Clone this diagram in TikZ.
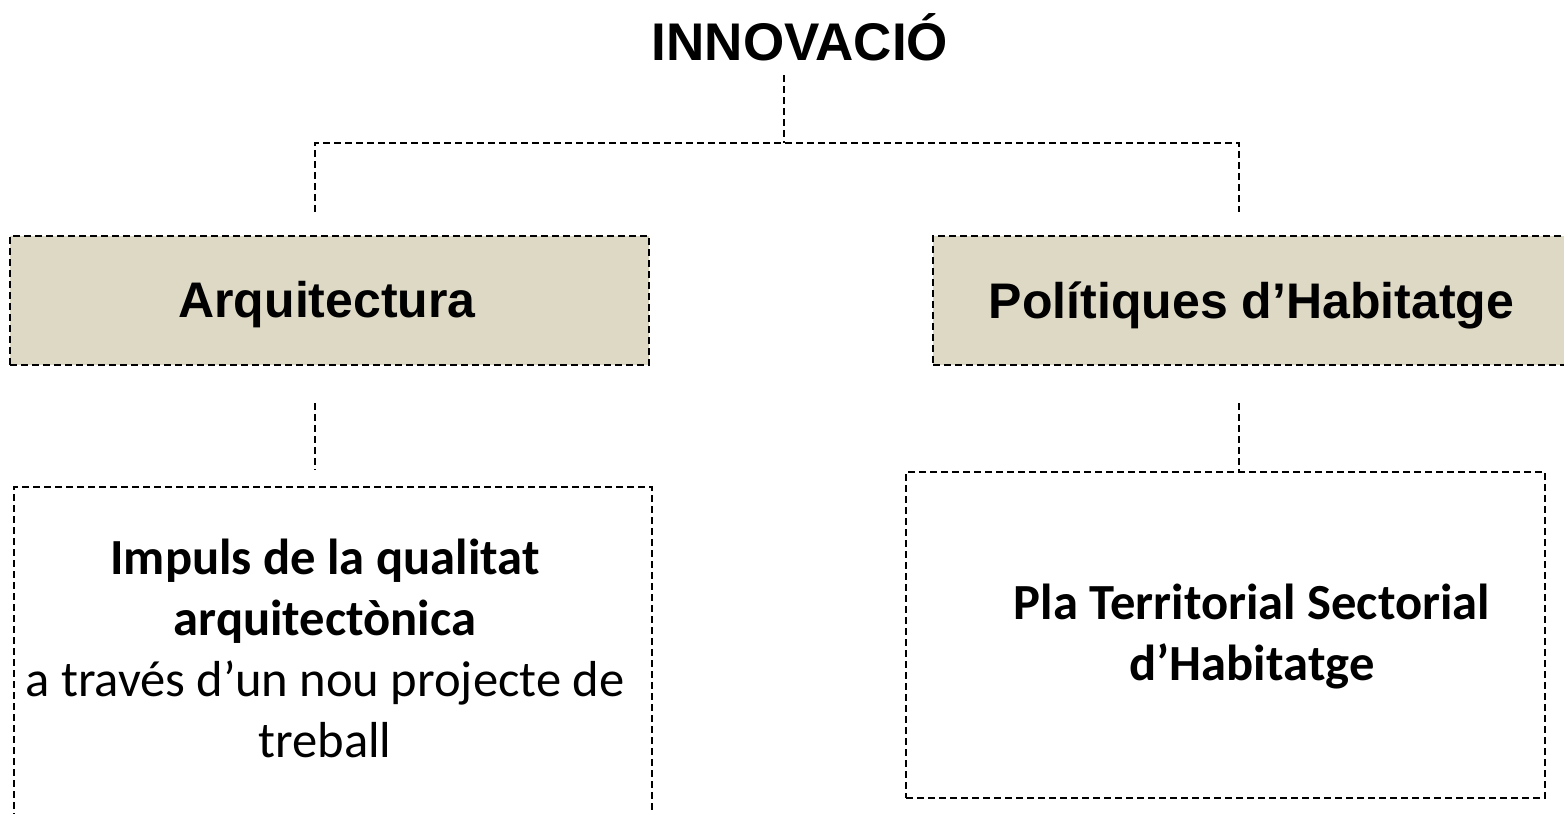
\documentclass[tikz,border=0pt]{standalone}
\usepackage{fontspec}
\setmainfont{Carlito}
\newfontfamily\arialf{Liberation Sans}
\definecolor{tanfill}{HTML}{DDD9C4}
\tikzset{
  dashline/.style={line width=1.8pt, dash pattern=on 7pt off 4pt, black},
  boxnode/.style={draw=black, line width=1.8pt, dash pattern=on 7pt off 4pt, inner sep=0pt, rectangle},
  headtext/.style={font=\arialf\bfseries\fontsize{50}{60}\selectfont, inner sep=0pt},
  bodytext/.style={font=\fontsize{50.6}{61}\selectfont, align=center, inner sep=0pt}
}
\begin{document}
\begin{tikzpicture}[x=1pt,y=-1pt]
\useasboundingbox (0,0) rectangle (1564,814);
% title
\node[headtext, font=\arialf\bfseries\fontsize{53}{60}\selectfont, anchor=base] (inno) at (800,60) {INNOVACIÓ};
% boxes
\node[boxnode, fill=tanfill, minimum width=639pt, minimum height=129pt] (arqbox) at (329.5,300.5) {};
\node[boxnode, fill=tanfill, minimum width=640pt, minimum height=129pt] (polbox) at (1253,300.5) {};
\node[boxnode, minimum width=638pt, minimum height=345pt] (impbox) at (333,659.5) {};
\node[boxnode, minimum width=639pt, minimum height=326pt] (plabox) at (1225.5,635) {};
% texts
\node[headtext, anchor=base] (arq) at (327,317) {Arquitectura};
\node[headtext, anchor=base] (pol) at (1251.5,318) {Polítiques d’Habitatge};
\node[bodytext] (imp) at (325,648) {\textbf{Impuls de la qualitat}\\\textbf{arquitectònica}\\a través d’un nou projecte de\\treball};
\node[bodytext] (pla) at (1252,637) {\textbf{Pla Territorial Sectorial}\\\textbf{d’Habitatge}};
% connector coordinates
\coordinate (top) at (784,75);
\coordinate (mid) at (784,143);
\coordinate (hl) at (315,143);
\coordinate (hr) at (1239,143);
\coordinate (al) at (315,212);
\coordinate (ar) at (1239,212);
\coordinate (bl1) at (315,403);
\coordinate (bl2) at (315,470);
\coordinate (br1) at (1239,403);
\draw[dashline] (top) -- (mid);
\draw[dashline] (al) -- (hl) -- (hr) -- (ar);
\draw[dashline] (bl1) -- (bl2);
\draw[dashline] (br1) -- (br1 |- plabox.north);
\end{tikzpicture}
\end{document}
